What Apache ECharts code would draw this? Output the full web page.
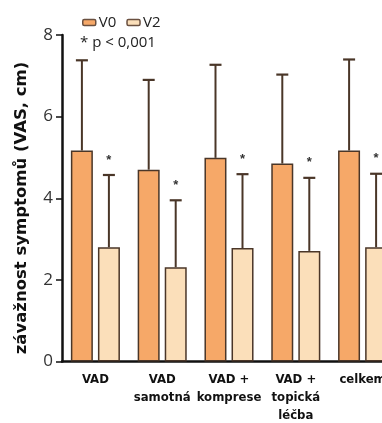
<!DOCTYPE html>
<html><head><meta charset="utf-8">
<script src="https://cdn.jsdelivr.net/npm/echarts@6/dist/echarts.min.js"></script>
<style>html,body{margin:0;padding:0;background:#fff}#c{width:382px;height:423px}</style>
</head><body><div id="c"></div>
<script>
var categories = ['VAD', 'VAD\nsamotná', 'VAD +\nkomprese', 'VAD +\ntopická\nléčba', 'celkem'];
var v0 = [5.17, 4.70, 4.99, 4.85, 5.17];
var v0Err = [7.38, 6.90, 7.27, 7.03, 7.40];
var v2 = [2.80, 2.31, 2.78, 2.71, 2.80];
var v2Err = [4.57, 3.95, 4.59, 4.50, 4.60];
var yTicks = [0, 2, 4, 6, 8];

var edge = '#4a3628';
var chart = echarts.init(document.getElementById('c'));
function errSeries(name, means, tops, dir, star) {
  return {
    type: 'custom', name: name + 'err', z: 5, silent: true,
    data: means.map(function (m, i) { return [i, m, tops[i]]; }),
    renderItem: function (params, api) {
      var p0 = api.coord([api.value(0), api.value(1)]);
      var p1 = api.coord([api.value(0), api.value(2)]);
      var x = p0[0] + dir * 13.5;
      var ch = [
        { type: 'line', shape: { x1: x, y1: p0[1], x2: x, y2: p1[1] }, style: { stroke: edge, lineWidth: 2 } },
        { type: 'line', shape: { x1: x - 6, y1: p1[1], x2: x + 6, y2: p1[1] }, style: { stroke: edge, lineWidth: 2.2 } }
      ];
      if (star) ch.push({ type: 'text', style: { text: '*', x: x, y: p1[1] - 15, align: 'center', verticalAlign: 'middle', fontSize: 13, fontWeight: 'bold', fill: '#333' } });
      return { type: 'group', children: ch };
    }
  };
}
chart.setOption({
  animation: false,
  grid: { left: 62, top: 35, width: 334, bottom: 61.5, containLabel: false, outerBoundsMode: 'none' },
  legend: {
    left: 77, top: 10, itemWidth: 13, itemHeight: 6, itemGap: 10,
    icon: 'roundRect',
    textStyle: { fontFamily: 'Open Sans', fontSize: 15, color: '#222', padding: [0, 0, 0, -2] },
    data: [{ name: 'V0', itemStyle: { borderColor: '#6a5040', borderWidth: 1.5 } }, { name: 'V2', itemStyle: { borderColor: '#6a5040', borderWidth: 1.5 } }]
  },
  graphic: [
    { type: 'text', left: 80, top: 35, style: { text: '* p < 0,001', fontFamily: 'Open Sans', fontSize: 15, fill: '#222' } },
    { type: 'text', x: 22, y: 208, rotation: Math.PI / 2,
      style: { text: 'závažnost symptomů (VAS, cm)', align: 'center', verticalAlign: 'middle', fontFamily: 'DejaVu Sans', fontWeight: 'bold', fontSize: 16.5, fill: '#111' } }
  ],
  xAxis: {
    type: 'category', data: categories,
    axisLine: { lineStyle: { color: '#111', width: 2.5 } },
    axisTick: { show: false },
    axisLabel: { interval: 0, fontFamily: '"DejaVu Sans Condensed", "Roboto", sans-serif', fontWeight: 'bold', fontSize: 13, color: '#111', lineHeight: 18, margin: 9 }
  },
  yAxis: {
    type: 'value', min: 0, max: 8, interval: 2,
    axisLine: { show: true, lineStyle: { color: '#111', width: 2.5 } },
    axisTick: { show: true, length: 6, lineStyle: { color: '#111', width: 1.5 } },
    axisLabel: { fontFamily: 'Open Sans', fontSize: 17, color: '#333', margin: 9,
      formatter: function (v) { return yTicks.indexOf(v) >= 0 ? String(v) : ''; } },
    splitLine: { show: false }
  },
  series: [
    { type: 'bar', name: 'V0', data: v0, barWidth: 22, barGap: '23%',
      itemStyle: { color: '#f6a868', borderColor: edge, borderWidth: 1.5 } },
    { type: 'bar', name: 'V2', data: v2, barWidth: 22,
      itemStyle: { color: '#fbdfba', borderColor: edge, borderWidth: 1.5 } },
    errSeries('V0', v0, v0Err, -1, false),
    errSeries('V2', v2, v2Err, 1, true)
  ]
});
</script></body></html>
